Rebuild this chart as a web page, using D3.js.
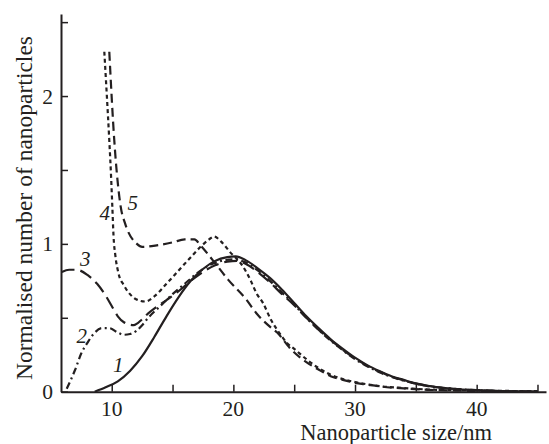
<!DOCTYPE html>
<html>
<head>
<meta charset="utf-8">
<script src="https://cdn.jsdelivr.net/npm/d3@7"></script>
<style>
  html, body { margin: 0; padding: 0; background: #fff; }
  svg { display: block; }
</style>
</head>
<body>
<div id="chart"></div>
<script>
// curve 1 (solid)
const size1  = [8.6, 9.5, 10.5, 11.5, 12.5, 13.5, 14.5, 15.5, 16.5, 17.5, 18.5, 19.5, 20.2, 21, 22, 23, 24, 25, 26, 27, 28, 29, 30, 31, 32, 33, 34, 35, 36, 37, 38, 40, 42, 45];
const count1 = [0, 0.03, 0.07, 0.14, 0.24, 0.37, 0.51, 0.64, 0.75, 0.83, 0.885, 0.91, 0.915, 0.89, 0.835, 0.77, 0.69, 0.6, 0.51, 0.43, 0.355, 0.29, 0.23, 0.18, 0.14, 0.105, 0.08, 0.056, 0.04, 0.028, 0.02, 0.01, 0.004, 0];
// curve 2 (dash-dot)
const size2  = [6.3, 7, 7.5, 8, 8.5, 9.2, 9.8, 10.5, 11, 11.5, 12, 12.5, 13, 14, 15, 16, 17, 18, 19, 20, 21, 22, 23, 24, 25, 26, 27, 28, 29, 30, 31, 32, 33, 34, 35, 36, 38, 40, 42, 45];
const count2 = [0.02, 0.15, 0.26, 0.33, 0.39, 0.43, 0.43, 0.4, 0.385, 0.39, 0.41, 0.45, 0.5, 0.58, 0.66, 0.73, 0.8, 0.855, 0.885, 0.895, 0.875, 0.82, 0.75, 0.67, 0.59, 0.5, 0.42, 0.345, 0.28, 0.22, 0.172, 0.132, 0.1, 0.075, 0.054, 0.038, 0.02, 0.01, 0.004, 0];
// curve 3 (long dash)
const size3  = [5.9, 6.5, 7.1, 8, 8.8, 9.5, 10, 10.5, 11, 11.8, 12.5, 13, 13.7, 14.5, 15.5, 16.5, 17.5, 18.5, 19.5, 20.3, 21, 22, 23, 24, 25, 26, 27, 28, 29, 30, 31, 32, 33, 34, 35, 36, 38, 40, 42, 45];
const count3 = [0.81, 0.825, 0.825, 0.79, 0.73, 0.65, 0.58, 0.51, 0.47, 0.45, 0.49, 0.53, 0.575, 0.62, 0.68, 0.75, 0.81, 0.855, 0.88, 0.885, 0.865, 0.81, 0.74, 0.66, 0.585, 0.5, 0.42, 0.35, 0.283, 0.225, 0.176, 0.136, 0.102, 0.077, 0.055, 0.04, 0.02, 0.01, 0.004, 0];
// curve 4 (short dash)
const size4  = [9.39, 9.6, 9.8, 9.95, 10.05, 10.15, 10.3, 10.56, 11, 11.5, 12, 12.75, 13.5, 14.5, 15.5, 16.5, 17.3, 18, 18.4, 19, 19.7, 20.8, 21.4, 21.9, 22.45, 23.1, 23.8, 24.4, 25, 26, 27, 28, 29, 30, 31, 32, 34, 36, 40, 45];
const count4 = [2.3, 2.0, 1.7, 1.45, 1.25, 1.05, 0.92, 0.8, 0.72, 0.66, 0.625, 0.61, 0.645, 0.73, 0.82, 0.91, 0.98, 1.03, 1.05, 1.015, 0.947, 0.846, 0.756, 0.666, 0.598, 0.485, 0.395, 0.33, 0.29, 0.22, 0.16, 0.115, 0.085, 0.065, 0.05, 0.038, 0.025, 0.015, 0.008, 0.003];
// curve 5 (medium dash)
const size5  = [9.8, 10.21, 10.74, 11.09, 12.07, 12.5, 13.7, 15, 16, 16.8, 17.3, 18.3, 19.6, 21, 22, 23, 23.6, 24.7, 26, 27, 28, 29, 30, 31, 32, 34, 36, 38, 40, 45];
const count5 = [2.3, 1.7, 1.25, 1.14, 1.0, 0.98, 0.99, 1.01, 1.03, 1.03, 0.99, 0.89, 0.755, 0.63, 0.52, 0.44, 0.4, 0.29, 0.2, 0.15, 0.105, 0.08, 0.06, 0.048, 0.036, 0.022, 0.013, 0.008, 0.005, 0.002];

const curveNames = ["1", "2", "3", "4", "5"];
// where each curve number sits, in data units [size, count]
const labelSize  = [10.1, 7.1, 7.4, 9.0, 11.3];
const labelCount = [0.13, 0.33, 0.85, 1.16, 1.23];

const xTicks = [10, 15, 20, 25, 30, 35, 40, 45];
const xTickLabels = [10, 20, 30, 40];
const yTicks = [0, 0.5, 1, 1.5, 2, 2.5];
const yTickLabels = [0, 1, 2];

const width = 549, height = 444;
const plotLeft = 61, plotRight = 546, plotTop = 14, plotBottom = 391.7;

const x = d3.scaleLinear().domain([5.83, 45.7]).range([plotLeft, plotRight]);
const y = d3.scaleLinear().domain([0, 2.555]).range([plotBottom, plotTop]);

const svg = d3.select("#chart").append("svg")
  .attr("width", width)
  .attr("height", height)
  .style("font-family", "'Liberation Serif', 'Times New Roman', serif");

const ink = "#231f20";

const series = [
  {x: size1, y: count1, dash: null},
  {x: size2, y: count2, dash: "7,3.5,2,3.5"},
  {x: size3, y: count3, dash: "13,6"},
  {x: size4, y: count4, dash: "4,3.2"},
  {x: size5, y: count5, dash: "9,5"}
];

const line = d3.line()
  .x(d => x(d[0]))
  .y(d => y(d[1]))
  .curve(d3.curveMonotoneX);

svg.append("g")
  .selectAll("path")
  .data(series)
  .join("path")
    .attr("d", s => line(d3.zip(s.x, s.y)))
    .attr("fill", "none")
    .attr("stroke", ink)
    .attr("stroke-width", 2.2)
    .attr("stroke-dasharray", s => s.dash);

// axes
const xAxis = svg.append("g")
  .attr("transform", `translate(0,${plotBottom})`)
  .call(d3.axisBottom(x).tickValues(xTicks).tickSizeInner(-7).tickSizeOuter(0).tickFormat(""));
const yAxis = svg.append("g")
  .attr("transform", `translate(${plotLeft},0)`)
  .call(d3.axisLeft(y).tickValues(yTicks).tickSizeInner(-7).tickSizeOuter(0).tickFormat(""));

[xAxis, yAxis].forEach(g => {
  g.select(".domain").attr("stroke", ink).attr("stroke-width", 2);
  g.selectAll(".tick line").attr("stroke", ink).attr("stroke-width", 1.5);
});

svg.append("g")
  .selectAll("text")
  .data(xTickLabels)
  .join("text")
    .attr("x", d => x(d))
    .attr("y", 416)
    .attr("text-anchor", "middle")
    .attr("font-size", 21.5)
    .attr("fill", ink)
    .text(d => d);

svg.append("g")
  .selectAll("text")
  .data(yTickLabels)
  .join("text")
    .attr("x", 53)
    .attr("y", d => y(d) + 7.5)
    .attr("text-anchor", "end")
    .attr("font-size", 21.5)
    .attr("fill", ink)
    .text(d => d);

svg.append("text")
  .attr("x", 492)
  .attr("y", 440)
  .attr("text-anchor", "end")
  .attr("font-size", 22.5)
  .attr("fill", ink)
  .text("Nanoparticle size/nm");

svg.append("text")
  .attr("transform", `translate(32,${(383 + 33) / 2}) rotate(-90)`)
  .attr("text-anchor", "middle")
  .attr("font-size", 23.5)
  .attr("fill", ink)
  .text("Normalised number of nanoparticles");

svg.append("g")
  .selectAll("text")
  .data(curveNames)
  .join("text")
    .attr("x", (d, i) => x(labelSize[i]))
    .attr("y", (d, i) => y(labelCount[i]))
    .attr("font-size", 21)
    .attr("font-style", "italic")
    .attr("fill", ink)
    .text(d => d);
</script>
</body>
</html>
